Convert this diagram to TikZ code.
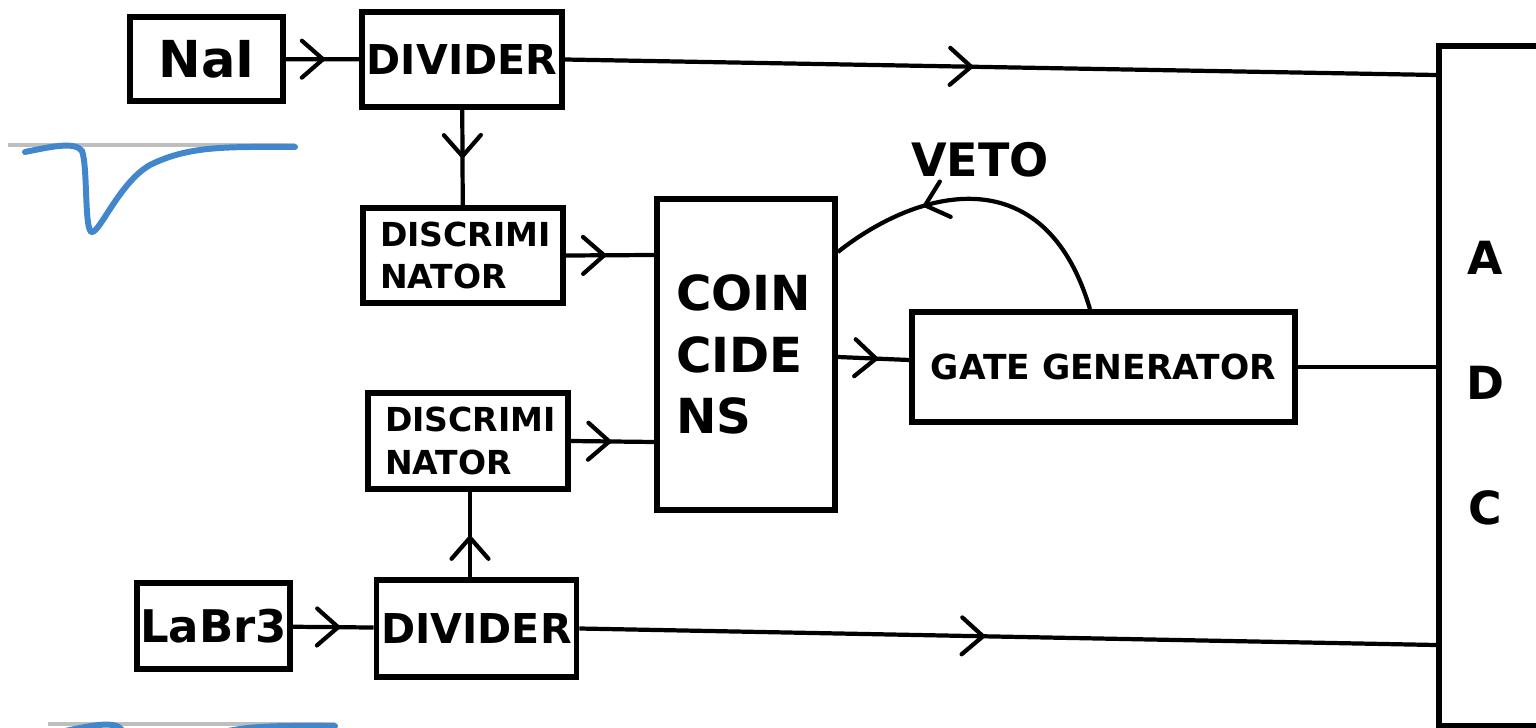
\documentclass[tikz,border=0pt]{standalone}
\usepackage{fontspec}
\setmainfont{DejaVu Sans}
\usetikzlibrary{arrows.meta,decorations.markings}

\definecolor{pulseblue}{RGB}{66,134,204}
\definecolor{pulsegrey}{RGB}{190,190,190}

\tikzset{
    box/.style={draw, line width=1.6pt, inner sep=0pt, font=\bfseries},
    wire/.style={line width=1.2pt},
    midarrow/.style={postaction={decorate}, decoration={markings,
        mark=at position #1 with {\arrow{Straight Barb[length=6pt, width=10.5pt, line cap=round]}}}},
    fs/.style 2 args={font=\bfseries\fontsize{#1}{#2}\selectfont}
}

\begin{document}
\begin{tikzpicture}
        \useasboundingbox (0,0) rectangle (15.36,7.27);
        % ==== PULSES ====
        \foreach \dx/\dy in {0/0, 0.4/-5.79} {
            \begin{scope}[shift={(\dx,\dy)}]
                \draw[pulsegrey, line width=1.1pt] (0.08,5.82) -- (2.95,5.82);
                \draw[pulseblue, line width=1.7pt, line cap=round]
                    (0.25,5.75) .. controls (0.5,5.80) and (0.75,5.86) .. (0.82,5.76)
                    .. controls (0.88,5.6) and (0.84,4.95) .. (0.92,4.95)
                    .. controls (1.0,4.95) and (1.2,5.45) .. (1.5,5.62)
                    .. controls (1.9,5.82) and (2.3,5.80) .. (2.95,5.80);
            \end{scope}
        }
        % ==== DETECTORS ====
        \node[box, fs={14.5}{16}, minimum width=1.53cm, minimum height=0.84cm] (nai) at (2.065,6.68) {NaI};
        \node[box, fs={12.8}{15}, minimum width=1.53cm, minimum height=0.86cm] (labr) at (2.135,1.01) {LaBr3};
        % ==== DIVIDERS ====
        \node[box, fs={11.7}{14}, minimum width=2.0cm, minimum height=0.95cm] (div1) at (4.62,6.675) {DIVIDER};
        \node[box, fs={11.7}{14}, minimum width=2.0cm, minimum height=0.97cm] (div2) at (4.765,0.985) {DIVIDER};
        % ==== DISCRIMINATORS ====
        \node[box, fs={9.4}{12}, align=left, text width=1.66cm, minimum width=2.0cm, minimum height=0.95cm] (disc1) at (4.63,4.715) {DISCRIMI\\NATOR};
        \node[box, fs={9.4}{12}, align=left, text width=1.66cm, minimum width=2.0cm, minimum height=0.96cm] (disc2) at (4.68,2.86) {DISCRIMI\\NATOR};
        % ==== COINCIDENCE, GATE, ADC ====
        \node[box, fs={13.75}{17.6}, align=left, text width=1.4cm, minimum width=1.78cm, minimum height=3.11cm] (coin) at (7.46,3.725) {COIN\\CIDE\\NS};
        \node[box, fs={9.8}{12}, minimum width=3.83cm, minimum height=1.10cm] (gate) at (11.035,3.60) {GATE GENERATOR};
        \node[box, anchor=north west, minimum width=1.3cm, minimum height=6.8cm] (adc) at (14.36,6.84) {};
        \node[fs={13}{35.5}, align=center] (adctext) at (14.85,3.44) {A\\D\\C};
        \coordinate (adcin1) at (14.36,6.52);
        \coordinate (adcin2) at (14.36,3.60);
        \coordinate (adcin3) at (14.36,0.82);
        % ==== CONNECTIONS ====
        \draw[wire, midarrow=0.55] (nai) -- (div1);
        \draw[wire, midarrow=0.6] (labr) -- (div2);
        \draw[wire, midarrow=0.52] (div1) -- (disc1);
        \draw[wire, midarrow=0.5] (div2.north -| 4.70,0) -- (disc2.south -| 4.70,0);
        \draw[wire, midarrow=0.47] (div1.east) -- (adcin1);
        \draw[wire, midarrow=0.475] (div2.east) -- (adcin3);
        \draw[wire, midarrow=0.47] (disc1.east) -- (coin.west |- 0,4.72);
        \draw[wire, midarrow=0.5] (disc2.east) -- (coin.west |- 0,2.85);
        \draw[wire, midarrow=0.58] (coin.east |- 0,3.70) -- (gate.west |- 0,3.67);
        \draw[wire] (gate.east) -- (adcin2);
        % ==== VETO ====
        \draw[wire, midarrow=0.7] (gate.north -| 10.9,0) .. controls (10.45,5.7) and (9.2,5.4) .. (coin.east |- 0,4.75);
        \node[fs={13.1}{15}] (veto) at (9.8,5.67) {VETO};
\end{tikzpicture}
\end{document}
